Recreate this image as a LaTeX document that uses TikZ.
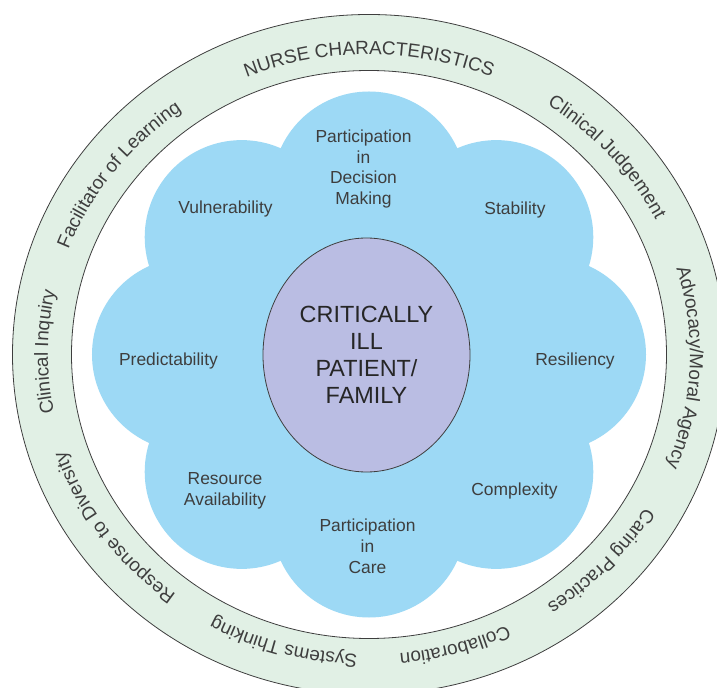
\documentclass[tikz,border=0pt]{standalone}
\usepackage{fontspec}
\setmainfont{Liberation Sans}
\usetikzlibrary{shapes.geometric,decorations.text}

\definecolor{ringgreen}{RGB}{225,240,229}
\definecolor{cloudblue}{RGB}{157,217,245}
\definecolor{corelilac}{RGB}{186,189,227}
\definecolor{inkgrey}{RGB}{62,62,62}

\newcommand{\ringfont}{\fontsize{19}{22}\selectfont\color{inkgrey}}

\begin{document}
\begin{tikzpicture}[x=1bp,y=1bp]

% definitions
\tikzstyle{factor} = [text=inkgrey, align=center, inner sep=0pt, font=\fontsize{17.5}{21}\selectfont]

\tikzstyle{core} = [ellipse, draw=inkgrey, line width=0.8bp, fill=corelilac, minimum width=207bp, minimum height=234bp, inner sep=0pt, text=black!85, align=center, font=\fontsize{23.5}{27}\selectfont]

\tikzstyle{lobe} = [fill=cloudblue]

\tikzstyle{ringline} = [draw=inkgrey, line width=0.8bp]

\tikzstyle{ringtext} = [decorate, decoration={text along path, text align=center, text format delimiters={|}{|}}]

\path[use as bounding box] (-369,-333.5) rectangle (348,354.5);
\clip (-369,-333.5) rectangle (348,354.5);

% the ring
\path[ringline, fill=ringgreen] (0,0) ellipse [x radius=356.5bp, y radius=340bp];
\path[ringline, fill=white] (0,0) ellipse [x radius=297.5bp, y radius=284bp];

\path[ringtext, decoration={text={|\ringfont|NURSE CHARACTERISTICS}}] (140:321bp and 300bp) arc [start angle=140, end angle=40, x radius=321bp, y radius=300bp];
\path[ringtext, decoration={text={|\ringfont|Clinical Judgement}}] (90.5:321bp and 300bp) arc [start angle=90.5, end angle=-9.5, x radius=321bp, y radius=300bp];
\path[ringtext, decoration={text={|\ringfont|Advocacy/Moral Agency}}] (47.5:321bp and 300bp) arc [start angle=47.5, end angle=-52.5, x radius=321bp, y radius=300bp];
\path[ringtext, decoration={text={|\ringfont|Caring Practices}}] (7.5:321bp and 300bp) arc [start angle=7.5, end angle=-92.5, x radius=321bp, y radius=300bp];
\path[ringtext, decoration={text={|\ringfont|Collaboration}}] (-24:321bp and 300bp) arc [start angle=-24, end angle=-124, x radius=321bp, y radius=300bp];
\path[ringtext, decoration={text={|\ringfont|Systems Thinking}}] (-56:321bp and 300bp) arc [start angle=-56, end angle=-156, x radius=321bp, y radius=300bp];
\path[ringtext, decoration={text={|\ringfont|Response to Diversity}}] (-95:321bp and 300bp) arc [start angle=-95, end angle=-195, x radius=321bp, y radius=300bp];
\path[ringtext, decoration={text={|\ringfont|Clinical Inquiry}}] (229.5:321bp and 300bp) arc [start angle=229.5, end angle=129.5, x radius=321bp, y radius=300bp];
\path[ringtext, decoration={text={|\ringfont|Facilitator of Learning}}] (193.5:321bp and 300bp) arc [start angle=193.5, end angle=93.5, x radius=321bp, y radius=300bp];

% the cloud
\fill[lobe] (0:180bp and 166bp) -- (45:180bp and 166bp) -- (90:180bp and 166bp) -- (135:180bp and 166bp) -- (180:180bp and 166bp) -- (225:180bp and 166bp) -- (270:180bp and 166bp) -- (315:180bp and 166bp) -- cycle;
\fill[lobe] (0:180bp and 166bp) circle [radius=97bp];
\fill[lobe] (45:180bp and 166bp) circle [radius=97bp];
\fill[lobe] (90:180bp and 166bp) circle [radius=97bp];
\fill[lobe] (135:180bp and 166bp) circle [radius=97bp];
\fill[lobe] (180:180bp and 166bp) circle [radius=97bp];
\fill[lobe] (225:180bp and 166bp) circle [radius=97bp];
\fill[lobe] (270:180bp and 166bp) circle [radius=97bp];
\fill[lobe] (315:180bp and 166bp) circle [radius=97bp];

% the factors
\node (decision) [factor] at (-5.5,185.5) {Participation\\in\\Decision\\Making};
\node (vulnerability) [factor] at (-143.5,145.5) {Vulnerability};
\node (stability) [factor] at (146,144.5) {Stability};
\node (predictability) [factor] at (-200.5,-6.5) {Predictability};
\node (resiliency) [factor] at (206,-6.5) {Resiliency};
\node (resource) [factor] at (-144,-136.5) {Resource\\Availability};
\node (complexity) [factor] at (145.5,-136.5) {Complexity};
\node (care) [factor] at (-1.5,-191.5) {Participation\\in\\Care};

\node (patient) [core] at (-2.5,-0.5) {CRITICALLY\\ILL\\PATIENT/\\FAMILY};

\end{tikzpicture}
\end{document}
